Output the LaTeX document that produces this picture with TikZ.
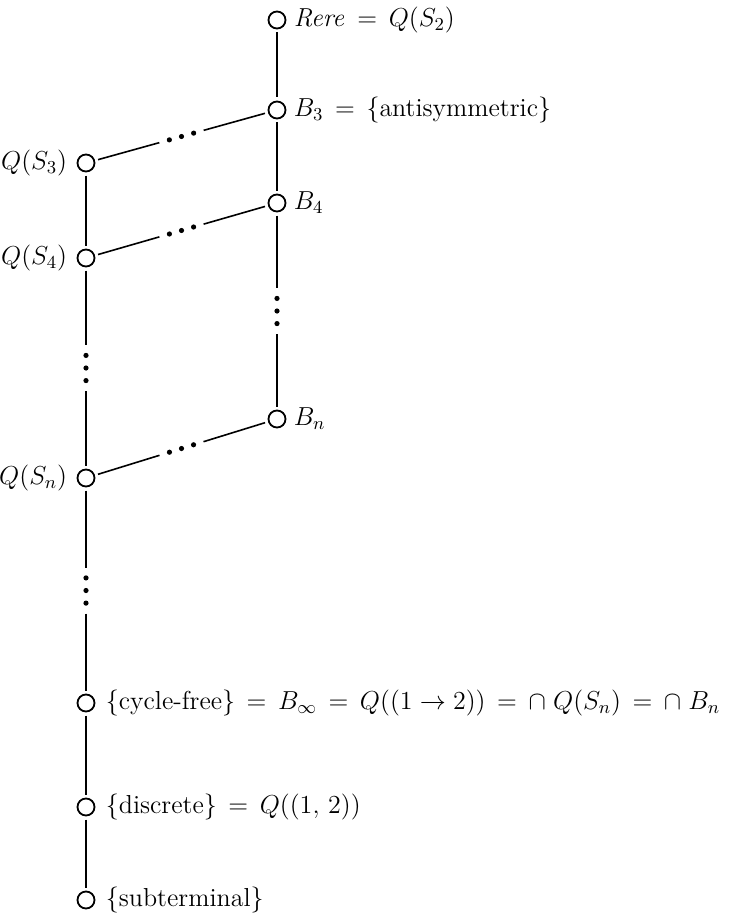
\RequirePackage{fix-cm}
\documentclass[tikz,border=0pt]{standalone}
\usepackage{amsmath}
\usetikzlibrary{calc,positioning}

\begin{document}
\begin{tikzpicture}[
  x=0.5pt, y=-0.5pt,
  font=\fontsize{13}{15}\selectfont,
  vtx/.style={draw, circle, line width=0.9pt, minimum size=8.5pt, inner sep=0pt, outer sep=2pt},
  lbl/.style={inner sep=0pt},
  edge/.style={line width=0.8pt},
  node distance=2pt,
]
  \useasboundingbox (0,0) rectangle (740,920);

  % right column
  \node[vtx] (rere) at (277,20)  {};
  \node[vtx] (b3)   at (277,110) {};
  \node[vtx] (b4)   at (277,203) {};
  \node[vtx] (bn)   at (277,419) {};

  % left column
  \node[vtx] (qs3)  at (86,163) {};
  \node[vtx] (qs4)  at (86,258) {};
  \node[vtx] (qsn)  at (86,478) {};
  \node[vtx] (cyc)  at (86,703) {};
  \node[vtx] (disc) at (86,807) {};
  \node[vtx] (sub)  at (86,900) {};

  \node[lbl, right=of rere] (rere-t) {$\mathit{Rere} \,=\, Q(S_2)$};
  \node[lbl, right=of b3]   (b3-t)   {$B_3 \,=\, \{\text{antisymmetric}\}$};
  \node[lbl, right=of b4]   (b4-t)   {$B_4$};
  \node[lbl, right=of bn]   (bn-t)   {$B_n$};
  \node[lbl, left=3pt of qs3]   (qs3-t)  {$Q(S_3)$};
  \node[lbl, left=3pt of qs4]   (qs4-t)  {$Q(S_4)$};
  \node[lbl, left=3pt of qsn]   (qsn-t)  {$Q(S_n)$};
  \node[lbl, right=3.5pt of cyc]  (cyc-t)
       {$\{\text{cycle-free}\} \,=\, B_\infty \,=\, Q((1 \to 2)) \,=\, {\cap}\; Q(S_n) \,=\, {\cap}\; B_n$};
  \node[lbl, right=3.5pt of disc] (disc-t) {$\{\text{discrete}\} \,=\, Q((1,\,2))$};
  \node[lbl, right=3.5pt of sub]  (sub-t)  {$\{\text{subterminal}\}$};

  \draw[edge] (rere) -- (b3);
  \draw[edge] (b3) -- (b4);
  \draw[edge] (qs3) -- (qs4);
  \draw[edge] (cyc) -- (disc);
  \draw[edge] (disc) -- (sub);

  % edges broken by three dots
  \foreach \a/\b in {qs3/b3, qs4/b4, qsn/bn, qs4/qsn, b4/bn, qsn/cyc} {
    \coordinate (m) at ($(\a)!0.5!(\b)$);
    \draw[edge] (\a) -- ($(m)!11.5pt!(\a)$);
    \draw[edge] ($(m)!11.5pt!(\b)$) -- (\b);
    \fill (m) circle (1.3pt) ($(m)!6.3pt!(\a)$) circle (1.3pt) ($(m)!6.3pt!(\b)$) circle (1.3pt);
  }
\end{tikzpicture}
\end{document}
